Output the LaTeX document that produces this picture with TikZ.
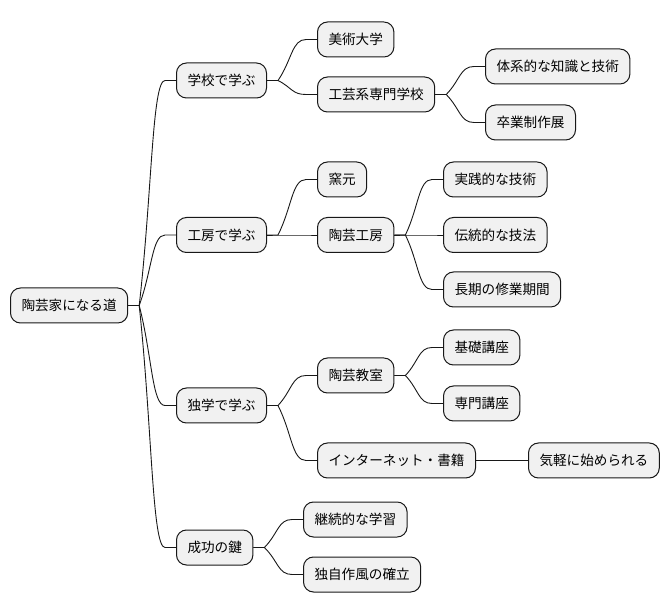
\documentclass[tikz,border=0pt]{standalone}
\usepackage{fontspec}
\setmainfont{Noto Sans CJK JP}
\usetikzlibrary{calc}
\definecolor{nodefill}{HTML}{F1F1F1}
\definecolor{edge}{HTML}{181818}
\tikzset{
  mm/.style={draw=edge, fill=nodefill, line width=1pt, rounded corners=10pt,
    minimum height=35pt, inner xsep=11pt, inner ysep=0pt, anchor=west,
    font=\fontsize{13.6pt}{15pt}\selectfont, text=black},
  link/.style={draw=edge, line width=0.9pt}
}
\newcommand\mmlink[2]{%
  \path (#1.east) ++(11pt,0) coordinate (jj) (#2.west) ++(-11pt,0) coordinate (kk);
  \draw[link] (#1.east) -- (jj) .. controls ($(jj)!0.5!(kk)$) and ($(jj|-kk)!0.5!(kk)$) .. (kk) -- (#2.west);}
\begin{document}
\begin{tikzpicture}[x=1pt,y=-1pt]
\useasboundingbox (0,0) rectangle (670,612);
\node[mm] (r) at (10,305.5) {陶芸家になる道};
\node[mm] (a1) at (176,80.5) {学校で学ぶ};
\node[mm] (a2) at (176,235) {工房で学ぶ};
\node[mm] (a3) at (176,405.5) {独学で学ぶ};
\node[mm] (a4) at (176,547.5) {成功の鍵};
\node[mm] (b1) at (317,39.5) {美術大学};
\node[mm] (b2) at (317,94.5) {工芸系専門学校};
\node[mm] (b3) at (317,179.5) {窯元};
\node[mm] (b4) at (317,235) {陶芸工房};
\node[mm] (b5) at (317,375.5) {陶芸教室};
\node[mm] (b6) at (317,460.5) {インターネット・書籍};
\node[mm] (b7) at (303,519.5) {継続的な学習};
\node[mm] (b8) at (303,574.5) {独自作風の確立};
\node[mm] (c1) at (485,66.5) {体系的な知識と技術};
\node[mm] (c2) at (485,122.5) {卒業制作展};
\node[mm] (c3) at (443,179.5) {実践的な技術};
\node[mm] (c4) at (443,235) {伝統的な技法};
\node[mm] (c5) at (443,289.5) {長期の修業期間};
\node[mm] (c6) at (443,347.5) {基礎講座};
\node[mm] (c7) at (443,403.5) {専門講座};
\node[mm] (c8) at (528,460.5) {気軽に始められる};
\mmlink{r}{a1}\mmlink{r}{a2}\mmlink{r}{a3}\mmlink{r}{a4}
\mmlink{a1}{b1}\mmlink{a1}{b2}
\mmlink{a2}{b3}\mmlink{a2}{b4}
\mmlink{a3}{b5}\mmlink{a3}{b6}
\mmlink{a4}{b7}\mmlink{a4}{b8}
\mmlink{b2}{c1}\mmlink{b2}{c2}
\mmlink{b4}{c3}\mmlink{b4}{c4}\mmlink{b4}{c5}
\mmlink{b5}{c6}\mmlink{b5}{c7}
\mmlink{b6}{c8}
\end{tikzpicture}
\end{document}
